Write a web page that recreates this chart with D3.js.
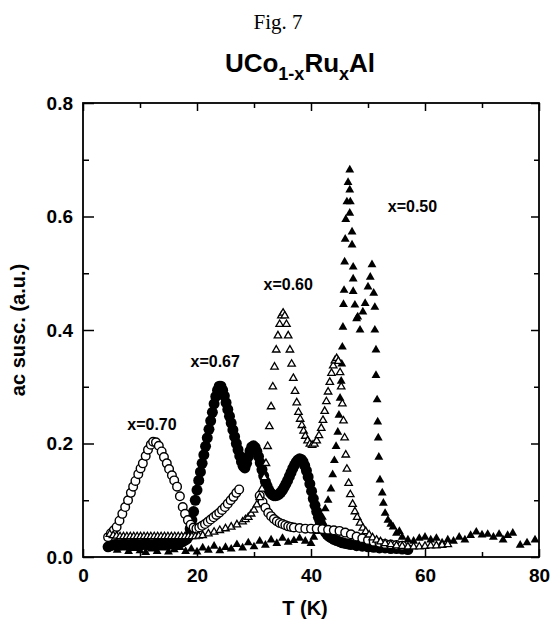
<!DOCTYPE html>
<html>
<head>
<meta charset="utf-8">
<script src="https://cdn.jsdelivr.net/npm/d3@7/dist/d3.min.js"></script>
<style>
  html, body { margin: 0; padding: 0; background: #fff; }
  svg { display: block; }
  .lbl { font-family: "Liberation Sans", Arial, Helvetica, sans-serif; font-weight: bold; fill: #000; }
</style>
</head>
<body>
<svg id="chart" width="551" height="631"></svg>
<script>
// ac susceptibility of UCo(1-x)Ru(x)Al vs temperature, four compositions

// x = 0.70 (open circles)
const tempsX070 = [4.4, 4.9, 5.4, 5.9, 6.4, 6.9, 7.4, 7.9, 8.4, 8.8, 9.2, 9.7, 10.1, 10.5, 11.0, 11.4, 11.9, 12.3, 12.8, 13.3,
  13.8, 14.2, 14.7, 15.1, 15.6, 16.0, 16.5, 17.0, 17.5, 17.9, 18.4, 18.9, 19.4, 19.9, 20.4, 20.9, 21.4, 21.9, 22.4, 22.9,
  23.4, 23.9, 24.4, 24.9, 25.4, 25.9, 26.4, 26.9, 27.4, 31.0, 31.5, 32.0, 32.5, 33.0, 33.5, 34.0, 34.5, 35.0, 35.5, 36.0,
  36.5, 37.0, 38.0, 39.0, 40.0, 41.0, 42.0, 43.0, 44.0, 45.0, 46.0, 47.0, 48.0, 49.0, 50.0, 51.0, 52.0, 53.0, 54.0, 55.0, 56.0];
const suscX070 = [0.035, 0.042, 0.047, 0.053, 0.064, 0.076, 0.088, 0.100, 0.113, 0.124, 0.134, 0.146, 0.156, 0.165, 0.178, 0.189, 0.198, 0.203, 0.202, 0.196,
  0.186, 0.176, 0.165, 0.155, 0.144, 0.135, 0.124, 0.107, 0.088, 0.076, 0.065, 0.057, 0.052, 0.050, 0.052, 0.055, 0.058, 0.062, 0.066, 0.070,
  0.074, 0.078, 0.083, 0.088, 0.094, 0.100, 0.106, 0.113, 0.119, 0.108, 0.097, 0.087, 0.078, 0.072, 0.067, 0.063, 0.060, 0.058, 0.056, 0.054,
  0.053, 0.052, 0.051, 0.050, 0.050, 0.050, 0.049, 0.048, 0.047, 0.046, 0.043, 0.040, 0.036, 0.033, 0.030, 0.027, 0.025, 0.023, 0.022, 0.021, 0.020];

// x = 0.67 (filled circles)
const tempsX067 = [4.4, 4.8, 5.2, 5.6, 6.0, 6.4, 6.8, 7.2, 7.6, 8.0, 8.4, 8.8, 9.2, 9.6, 10.0, 10.4, 10.8, 11.2, 11.6, 12.0,
  12.4, 12.8, 13.2, 13.6, 14.0, 14.4, 14.8, 15.2, 15.6, 16.0, 16.4, 16.8, 17.2, 17.6, 18.0, 18.3, 18.5, 18.8, 19.1, 19.4,
  19.7, 20.0, 20.3, 20.6, 20.9, 21.2, 21.5, 21.8, 22.1, 22.4, 22.7, 23.0, 23.3, 23.6, 23.9, 24.2, 24.5, 24.8, 25.1, 25.4,
  25.7, 26.0, 26.3, 26.6, 26.9, 27.2, 27.5, 27.8, 28.1, 28.4, 28.7, 29.0, 29.3, 29.6, 29.9, 30.2, 30.5, 30.8, 31.1, 31.4,
  31.7, 32.0, 32.3, 32.6, 32.9, 33.2, 33.5, 33.8, 34.1, 34.4, 34.7, 35.0, 35.3, 35.6, 35.9, 36.2, 36.5, 36.8, 37.1, 37.4,
  37.7, 38.0, 38.3, 38.6, 38.9, 39.2, 39.5, 39.8, 40.1, 40.4, 40.7, 41.0, 41.3, 41.6, 41.9, 42.2, 42.5, 42.8, 43.1, 43.5,
  44.0, 44.5, 45.0, 45.5, 46.0, 46.5, 47.0, 48.0, 49.0, 50.0, 51.0, 52.0, 53.0, 54.0, 55.0, 56.0, 57.0];
const suscX067 = [0.018, 0.020, 0.021, 0.022, 0.022, 0.021, 0.022, 0.023, 0.022, 0.021, 0.022, 0.023, 0.022, 0.022, 0.021, 0.022, 0.023, 0.022, 0.022, 0.021,
  0.022, 0.022, 0.023, 0.022, 0.022, 0.023, 0.022, 0.023, 0.023, 0.024, 0.024, 0.025, 0.026, 0.028, 0.030, 0.033, 0.037, 0.050, 0.065, 0.080,
  0.100, 0.118, 0.135, 0.150, 0.165, 0.180, 0.195, 0.210, 0.225, 0.240, 0.255, 0.270, 0.283, 0.294, 0.301, 0.301, 0.294, 0.284, 0.272, 0.260,
  0.248, 0.236, 0.224, 0.212, 0.200, 0.189, 0.178, 0.168, 0.160, 0.157, 0.165, 0.177, 0.187, 0.194, 0.196, 0.193, 0.186, 0.177, 0.166, 0.154,
  0.143, 0.133, 0.125, 0.118, 0.113, 0.110, 0.108, 0.108, 0.109, 0.111, 0.114, 0.118, 0.123, 0.129, 0.135, 0.142, 0.149, 0.156, 0.162, 0.167,
  0.171, 0.173, 0.172, 0.168, 0.161, 0.152, 0.141, 0.129, 0.116, 0.103, 0.091, 0.080, 0.070, 0.062, 0.055, 0.049, 0.044, 0.040, 0.037, 0.034,
  0.031, 0.029, 0.027, 0.025, 0.024, 0.023, 0.022, 0.020, 0.019, 0.018, 0.017, 0.016, 0.016, 0.015, 0.015, 0.014, 0.013];

// x = 0.60 (open triangles)
const tempsX060 = [4.7, 5.3, 5.9, 6.5, 7.1, 7.7, 8.3, 8.9, 9.5, 10.1, 10.7, 11.3, 11.9, 12.5, 13.1, 13.7, 14.3, 14.9, 15.5, 16.1,
  16.7, 17.3, 17.9, 18.5, 19.1, 19.7, 20.3, 21.0, 22.0, 23.0, 24.0, 25.0, 26.0, 27.0, 28.0, 28.5, 29.0, 29.5, 30.0, 30.5,
  31.0, 31.4, 31.8, 32.1, 32.4, 32.7, 33.0, 33.3, 33.6, 33.9, 34.2, 34.5, 34.8, 35.1, 35.4, 35.7, 36.0, 36.3, 36.6, 36.9,
  37.2, 37.5, 37.8, 38.1, 38.4, 38.7, 39.0, 39.4, 39.8, 40.2, 40.6, 41.0, 41.4, 41.8, 42.1, 42.4, 42.7, 43.0, 43.3, 43.6,
  43.9, 44.2, 44.5, 44.8, 45.1, 45.3, 45.5, 45.7, 45.9, 46.1, 46.3, 46.6, 46.9, 47.3, 47.7, 48.1, 48.6, 49.1, 49.6, 50.2,
  50.8, 51.5, 52.2, 53.0, 54.0, 55.0, 56.0, 57.0, 58.0, 59.0, 60.0, 61.0, 62.0, 63.0, 64.0];
const suscX060 = [0.040, 0.038, 0.037, 0.036, 0.036, 0.036, 0.036, 0.036, 0.036, 0.036, 0.036, 0.036, 0.036, 0.036, 0.036, 0.036, 0.036, 0.036, 0.036, 0.036,
  0.036, 0.036, 0.036, 0.036, 0.036, 0.036, 0.037, 0.038, 0.041, 0.044, 0.047, 0.050, 0.053, 0.057, 0.062, 0.066, 0.070, 0.076, 0.083, 0.092,
  0.105, 0.120, 0.140, 0.165, 0.195, 0.230, 0.265, 0.300, 0.335, 0.365, 0.390, 0.410, 0.425, 0.430, 0.425, 0.410, 0.390, 0.365, 0.340, 0.315,
  0.292, 0.272, 0.255, 0.243, 0.232, 0.222, 0.213, 0.205, 0.199, 0.197, 0.199, 0.205, 0.214, 0.227, 0.241, 0.257, 0.274, 0.291, 0.308, 0.324,
  0.337, 0.346, 0.350, 0.345, 0.325, 0.300, 0.270, 0.240, 0.210, 0.180, 0.155, 0.130, 0.110, 0.093, 0.080, 0.070, 0.060, 0.051, 0.045, 0.039,
  0.034, 0.030, 0.027, 0.024, 0.022, 0.020, 0.019, 0.018, 0.018, 0.018, 0.019, 0.020, 0.020, 0.021, 0.022];

// x = 0.50 (filled triangles)
const tempsX050 = [6.0, 7.0, 8.0, 9.0, 10.0, 11.0, 12.0, 13.0, 14.0, 15.0, 16.0, 17.0, 18.0, 19.0, 20.0, 21.0, 22.0, 23.0, 24.0, 25.0,
  26.0, 27.0, 28.0, 29.0, 30.0, 31.0, 32.0, 33.0, 34.0, 35.0, 36.0, 37.0, 38.0, 39.0, 40.0, 40.5, 41.0, 41.5, 42.0, 42.5,
  43.0, 43.5, 43.8, 44.1, 44.4, 44.7, 44.9, 45.1, 45.3, 45.4, 45.5, 45.6, 45.7, 45.8, 45.9, 46.0, 46.1, 46.3, 46.5, 46.8,
  46.8, 46.9, 46.8, 47.2, 47.2, 47.4, 47.4, 47.4, 47.7, 48.0, 48.2, 48.6, 49.1, 49.5, 50.0, 50.4, 50.7, 51.0, 51.2, 51.2,
  51.4, 51.4, 51.6, 51.7, 51.8, 51.9, 52.1, 52.5, 52.7, 53.0, 53.5, 54.0, 54.4, 55.0, 55.5, 56.0, 57.0, 58.0, 59.0, 60.0,
  61.0, 62.0, 63.0, 64.0, 65.0, 66.0, 67.0, 68.0, 69.0, 70.0, 71.0, 72.0, 73.0, 73.7, 74.5, 75.4, 76.7, 77.9, 79.3];
const suscX050 = [0.012, 0.016, 0.010, 0.015, 0.011, 0.008, 0.014, 0.010, 0.016, 0.009, 0.013, 0.017, 0.010, 0.014, 0.009, 0.016, 0.012, 0.019, 0.011, 0.017,
  0.014, 0.022, 0.016, 0.025, 0.018, 0.028, 0.021, 0.030, 0.024, 0.033, 0.026, 0.029, 0.033, 0.028, 0.024, 0.035, 0.045, 0.055, 0.070, 0.085,
  0.100, 0.120, 0.145, 0.170, 0.195, 0.220, 0.250, 0.280, 0.310, 0.340, 0.370, 0.405, 0.445, 0.470, 0.520, 0.560, 0.595, 0.626, 0.660, 0.682,
  0.647, 0.626, 0.606, 0.573, 0.550, 0.511, 0.490, 0.468, 0.444, 0.420, 0.423, 0.400, 0.432, 0.447, 0.476, 0.493, 0.515, 0.465, 0.440, 0.400,
  0.365, 0.320, 0.277, 0.238, 0.210, 0.176, 0.136, 0.113, 0.095, 0.077, 0.065, 0.058, 0.053, 0.042, 0.045, 0.035, 0.030, 0.028, 0.033, 0.035,
  0.030, 0.033, 0.025, 0.030, 0.028, 0.035, 0.030, 0.038, 0.044, 0.039, 0.040, 0.035, 0.040, 0.030, 0.038, 0.042, 0.021, 0.025, 0.030];

// axis tick values and labels
const xMajorTicks = [0, 20, 40, 60, 80];
const xMinorTicks = [10, 30, 50, 70];
const yMajorTicks = [0.0, 0.2, 0.4, 0.6, 0.8];
const yMinorTicks = [0.1, 0.3, 0.5, 0.7];

// composition labels placed at (T, susceptibility)
const seriesLabels = ["x=0.70", "x=0.67", "x=0.60", "x=0.50"];
const labelTemps = [12.1, 23.2, 36.0, 57.8];
const labelSusc = [0.224, 0.334, 0.470, 0.608];

(function draw() {
  const svg = d3.select("#chart");
  const plotLeft = 83, plotRight = 539, plotTop = 103, plotBottom = 557;

  const x = d3.scaleLinear().domain([0, 80]).range([plotLeft, plotRight]);
  const y = d3.scaleLinear().domain([0, 0.8]).range([plotBottom, plotTop]);

  const zip = (ts, vs) => ts.map((t, i) => ({ t, v: vs[i] }));

  // page headings
  svg.append("text")
    .attr("x", 278).attr("y", 29)
    .attr("text-anchor", "middle")
    .style("font-family", "'Liberation Serif', 'Times New Roman', serif")
    .style("font-size", "21px")
    .text("Fig. 7");

  const title = svg.append("text").attr("class", "lbl")
    .attr("x", 300).attr("y", 72)
    .attr("text-anchor", "middle")
    .style("font-size", "26px");
  title.append("tspan").text("UCo");
  title.append("tspan").attr("dy", 8).style("font-size", "18px").text("1-x");
  title.append("tspan").attr("dy", -8).text("Ru");
  title.append("tspan").attr("dy", 8).style("font-size", "18px").text("x");
  title.append("tspan").attr("dy", -8).text("Al");

  // markers
  const plot = svg.append("g");

  plot.append("g").selectAll("circle")
    .data(zip(tempsX067, suscX067)).join("circle")
    .attr("cx", d => x(d.t)).attr("cy", d => y(d.v)).attr("r", 5.5)
    .attr("fill", "#000");

  const triFilled = d3.symbol(d3.symbolTriangle, 34);
  plot.append("g").selectAll("path")
    .data(zip(tempsX050, suscX050)).join("path")
    .attr("d", triFilled)
    .attr("transform", d => `translate(${x(d.t)},${y(d.v)})`)
    .attr("fill", "#000");

  plot.append("g").selectAll("circle")
    .data(zip(tempsX070, suscX070)).join("circle")
    .attr("cx", d => x(d.t)).attr("cy", d => y(d.v)).attr("r", 4.3)
    .attr("fill", "#fff").attr("stroke", "#000").attr("stroke-width", 1.4);

  const triOpen = d3.symbol(d3.symbolTriangle, 24);
  plot.append("g").selectAll("path")
    .data(zip(tempsX060, suscX060)).join("path")
    .attr("d", triOpen)
    .attr("transform", d => `translate(${x(d.t)},${y(d.v)})`)
    .attr("fill", "#fff").attr("stroke", "#000").attr("stroke-width", 1.3);

  // composition labels
  svg.append("g").selectAll("text")
    .data(seriesLabels).join("text")
    .attr("class", "lbl")
    .attr("x", (d, i) => x(labelTemps[i]))
    .attr("y", (d, i) => y(labelSusc[i]))
    .attr("text-anchor", "middle")
    .style("font-size", "16px")
    .text(d => d);

  // axes with inward ticks
  const axisStyle = g => {
    g.select(".domain").remove();
    g.selectAll("line").attr("stroke", "#000").attr("stroke-width", 1.5);
    g.selectAll("text").attr("class", "lbl").style("font-size", "19px");
  };

  svg.append("g").attr("transform", `translate(0,${plotBottom})`)
    .call(d3.axisBottom(x).tickValues(xMajorTicks).tickSize(-8).tickPadding(12).tickFormat(d3.format("d")))
    .call(axisStyle);
  svg.append("g").attr("transform", `translate(0,${plotBottom})`)
    .call(d3.axisBottom(x).tickValues(xMinorTicks).tickSize(-5).tickFormat(""))
    .call(axisStyle);
  svg.append("g").attr("transform", `translate(0,${plotTop})`)
    .call(d3.axisTop(x).tickValues(xMajorTicks).tickSize(-8).tickFormat(""))
    .call(axisStyle);
  svg.append("g").attr("transform", `translate(0,${plotTop})`)
    .call(d3.axisTop(x).tickValues(xMinorTicks).tickSize(-5).tickFormat(""))
    .call(axisStyle);

  svg.append("g").attr("transform", `translate(${plotLeft},0)`)
    .call(d3.axisLeft(y).tickValues(yMajorTicks).tickSize(-11).tickPadding(10).tickFormat(d3.format(".1f")))
    .call(axisStyle);
  svg.append("g").attr("transform", `translate(${plotLeft},0)`)
    .call(d3.axisLeft(y).tickValues(yMinorTicks).tickSize(-6).tickFormat(""))
    .call(axisStyle);
  svg.append("g").attr("transform", `translate(${plotRight},0)`)
    .call(d3.axisRight(y).tickValues(yMajorTicks).tickSize(-8).tickFormat(""))
    .call(axisStyle);
  svg.append("g").attr("transform", `translate(${plotRight},0)`)
    .call(d3.axisRight(y).tickValues(yMinorTicks).tickSize(-5).tickFormat(""))
    .call(axisStyle);

  // plot frame
  svg.append("rect")
    .attr("x", plotLeft).attr("y", plotTop)
    .attr("width", plotRight - plotLeft).attr("height", plotBottom - plotTop)
    .attr("fill", "none").attr("stroke", "#000").attr("stroke-width", 1.8);

  // axis titles
  svg.append("text").attr("class", "lbl")
    .attr("x", 305).attr("y", 615)
    .attr("text-anchor", "middle")
    .style("font-size", "20px")
    .text("T (K)");

  svg.append("text").attr("class", "lbl")
    .attr("transform", `translate(25,${(plotTop + plotBottom) / 2}) rotate(-90)`)
    .attr("text-anchor", "middle")
    .style("font-size", "20px")
    .text("ac susc. (a.u.)");
})();
</script>
</body>
</html>
